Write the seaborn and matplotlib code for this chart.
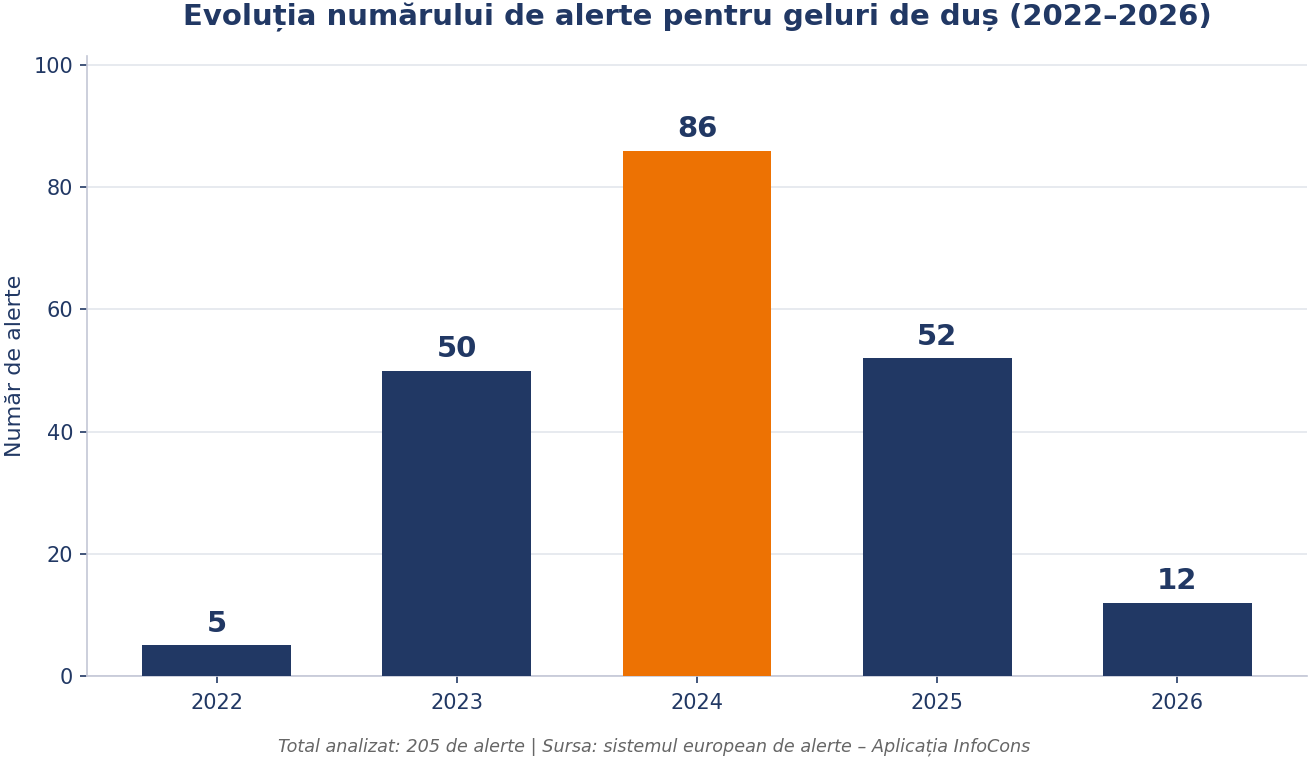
import matplotlib
matplotlib.use("Agg")
import matplotlib.pyplot as plt
import seaborn as sns
import pandas as pd

years = ["2022", "2023", "2024", "2025", "2026"]
alerts = [5, 50, 86, 52, 12]
highlight_year = "2024"

navy = "#213864"
orange = "#ED7203"

sns.set_theme(style="white")
plt.rcParams['font.family'] = ['DejaVu Sans']

df = pd.DataFrame({"An": years, "Alerte": alerts})
palette = {y: (orange if y == highlight_year else navy) for y in years}

fig, ax = plt.subplots(figsize=(13.08, 7.58), dpi=100)
fig.subplots_adjust(left=87/1308, right=1307/1308, top=1-56/758, bottom=1-676/758)

sns.barplot(data=df, x="An", y="Alerte", hue="An", palette=palette,
            width=0.62, saturation=1, legend=False, ax=ax, zorder=3,
            linewidth=0)

for i, v in enumerate(alerts):
    ax.text(i, v + 1.2, str(v), ha="center", va="bottom", fontsize=21,
            fontweight="bold", color=navy)

ax.set_ylim(0, max(alerts) * 1.18)
ax.set_xlim(-0.54, 4.54)
ax.set_yticks([0, 20, 40, 60, 80, 100])
ax.yaxis.grid(True, color="#e3e6ec", linewidth=1.2, zorder=0)
ax.set_axisbelow(True)

for s in ["top", "right"]:
    ax.spines[s].set_visible(False)
for s in ["left", "bottom"]:
    ax.spines[s].set_color("#c3c7d6")
    ax.spines[s].set_linewidth(1.2)

ax.tick_params(axis="both", colors=navy, labelsize=15, length=5, width=1.2,
               bottom=True, left=True)
ax.tick_params(axis="x", pad=7)
ax.tick_params(axis="y", pad=5)
ax.set_xlabel("")
ax.set_ylabel("Număr de alerte", fontsize=16, color=navy, labelpad=6)

ax.set_title("Evoluția numărului de alerte pentru geluri de duș (2022–2026)",
             fontsize=21, fontweight="bold", color=navy, pad=22)

fig.text(0.5, 1-747/758,
         "Total analizat: 205 de alerte | Sursa: sistemul european de alerte – Aplicația InfoCons",
         ha="center", va="center", fontsize=12.7, style="italic", color="#666666")

fig.savefig("out.png", dpi=100)
